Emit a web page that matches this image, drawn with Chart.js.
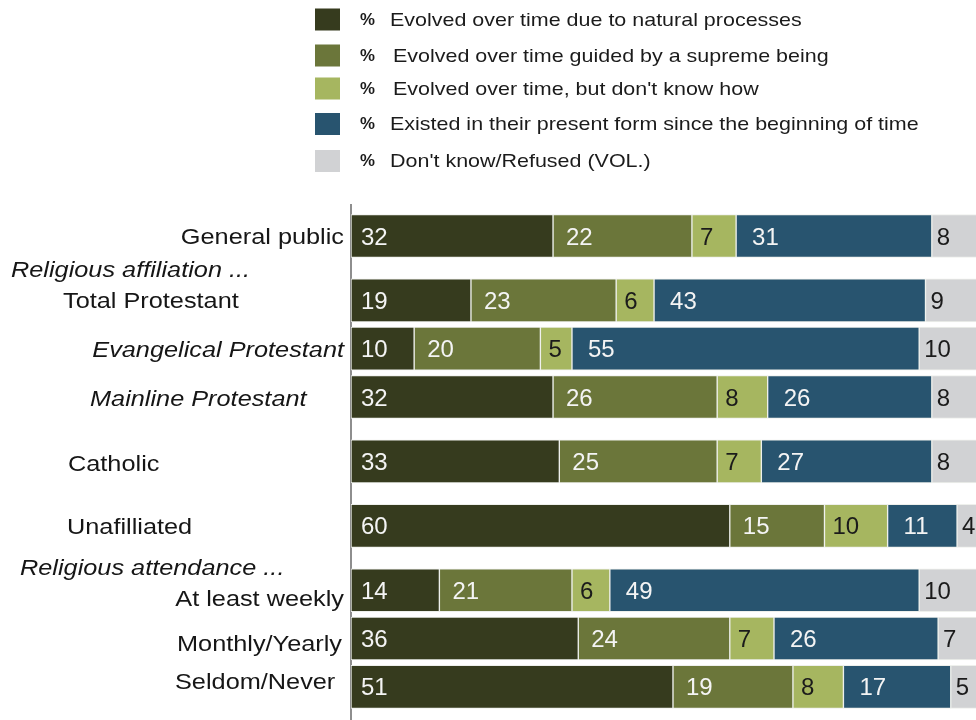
<!DOCTYPE html>
<html>
<head>
<meta charset="utf-8">
<script src="https://cdn.jsdelivr.net/npm/chart.js@4.4.1/dist/chart.umd.min.js"></script>
<style>
  html, body { margin: 0; padding: 0; background: #fff; overflow: hidden; }
  #wrap { width: 976px; height: 720px; }
</style>
</head>
<body>
<div id="wrap"><canvas id="evolution" width="976" height="720"></canvas></div>
<script>
// Views on human evolution, by religious group
const categories = [
  'General public', 'Total Protestant', 'Evangelical Protestant', 'Mainline Protestant',
  'Catholic', 'Unafilliated', 'At least weekly', 'Monthly/Yearly', 'Seldom/Never'
];
// row index on the (linear) category axis; gaps leave room for the group headings
const rowIndex = [0, 4, 7, 10, 14, 18, 22, 25, 28];

const seriesLabels = [
  'Evolved over time due to natural processes',
  'Evolved over time guided by a supreme being',
  "Evolved over time, but don't know how",
  'Existed in their present form since the beginning of time',
  "Don't know/Refused (VOL.)"
];
const naturalProcesses = [32, 19, 10, 32, 33, 60, 14, 36, 51];
const guidedBySupreme = [22, 23, 20, 26, 25, 15, 21, 24, 19];
const dontKnowHow = [7, 6, 5, 8, 7, 10, 6, 7, 8];
const presentForm = [31, 43, 55, 26, 27, 11, 49, 26, 17];
const dontKnowRefused = [8, 9, 10, 8, 8, 4, 10, 7, 5];

const seriesValues = [naturalProcesses, guidedBySupreme, dontKnowHow, presentForm, dontKnowRefused];
const colors = ['#363b1e', '#6b763a', '#a6b660', '#28546f', '#d1d2d4'];
const valueColors = ['#f4f4f4', '#f4f4f4', '#1b1b1b', '#f4f4f4', '#1b1b1b'];
const valueOffsets = [10, 13, 8, 16, 5];

const FONT = '"Liberation Sans", Arial, sans-serif';

// where each row label sits relative to its bar
const labelLayout = [
  { x: 344, align: 'right', dy: 2 },
  { x: 63, align: 'left', dy: 2 },
  { x: 344, align: 'right', dy: 2, italic: true },
  { x: 90, align: 'left', dy: 3, italic: true },
  { x: 68, align: 'left', dy: 4 },
  { x: 67, align: 'left', dy: 2 },
  { x: 344, align: 'right', dy: 10 },
  { x: 342, align: 'right', dy: 6 },
  { x: 175, align: 'left', dy: -4 }
];
const headings = [
  { text: 'Religious affiliation ...', x: 11, at: 2.17 },
  { text: 'Religious attendance ...', x: 20, at: 20.7 }
];

function stretchedText(ctx, text, x, y, align, font, color, sx) {
  ctx.save();
  ctx.translate(x, y);
  ctx.scale(sx, 1);
  ctx.font = font;
  ctx.fillStyle = color;
  ctx.textAlign = align;
  ctx.textBaseline = 'middle';
  ctx.fillText(text, 0, 0);
  ctx.restore();
}

const rowLabelsPlugin = {
  id: 'rowLabels',
  afterDraw(chart) {
    const { ctx } = chart;
    const yScale = chart.scales.y;
    categories.forEach((name, i) => {
      const l = labelLayout[i];
      const y = yScale.getPixelForValue(rowIndex[i]) + l.dy;
      const font = `${l.italic ? 'italic ' : ''}22px ${FONT}`;
      stretchedText(ctx, name, l.x, y, l.align, font, '#161616', 1.15);
    });
    headings.forEach(h => {
      const y = yScale.getPixelForValue(h.at);
      stretchedText(ctx, h.text, h.x, y, 'left', `italic 22px ${FONT}`, '#161616', 1.15);
    });
  }
};

const valueLabelsPlugin = {
  id: 'valueLabels',
  afterDatasetsDraw(chart) {
    const { ctx } = chart;
    ctx.save();
    ctx.font = `24px ${FONT}`;
    ctx.textAlign = 'left';
    ctx.textBaseline = 'middle';
    chart.data.datasets.forEach((ds, d) => {
      chart.getDatasetMeta(d).data.forEach((bar, i) => {
        const left = Math.min(bar.base, bar.x);
        ctx.fillStyle = valueColors[d];
        ctx.fillText(String(seriesValues[d][i]), left + valueOffsets[d], bar.y + 2);
      });
    });
    ctx.restore();
  }
};

// vertical legend stacked above the bars
const stackedLegendPlugin = {
  id: 'stackedLegend',
  afterDraw(chart) {
    const { ctx } = chart;
    const rows = [19.5, 55.5, 88.5, 124, 161];
    const textX = [390, 393, 393, 390, 390];
    chart.data.datasets.forEach((ds, i) => {
      const cy = rows[i];
      ctx.fillStyle = ds.backgroundColor;
      ctx.fillRect(315, cy - 11, 25, 22);
      stretchedText(ctx, '%', 360, cy + 1, 'left', `bold 16px ${FONT}`, '#1b1b1b', 1.05);
      stretchedText(ctx, ds.label, textX[i], cy + 1, 'left', `19px ${FONT}`, '#1b1b1b', 1.13);
    });
  }
};

new Chart(document.getElementById('evolution'), {
  type: 'bar',
  data: {
    datasets: seriesValues.map((vals, d) => ({
      label: seriesLabels[d],
      data: vals.map((v, i) => ({ x: v, y: rowIndex[i] })),
      backgroundColor: colors[d],
      borderColor: '#eef0ec',
      borderWidth: { top: 1, bottom: 1, left: 1, right: 1 },
      borderSkipped: false,
      barThickness: 43
    }))
  },
  options: {
    indexAxis: 'y',
    responsive: false,
    devicePixelRatio: 1,
    animation: false,
    layout: { padding: { left: 351, top: 205, right: 0, bottom: 0 } },
    plugins: {
      legend: { display: false },
      tooltip: { enabled: false }
    },
    scales: {
      x: {
        type: 'linear',
        stacked: true,
        min: 0,
        max: 99,
        display: false
      },
      y: {
        type: 'linear',
        stacked: true,
        reverse: true,
        offset: false,
        min: -1.925,
        max: 30.06,
        ticks: { display: false },
        grid: { display: false, drawTicks: false },
        border: { display: true, color: '#8e8e8e', width: 2 },
        afterFit: (scale) => { scale.width = 0; }
      }
    }
  },
  plugins: [valueLabelsPlugin, rowLabelsPlugin, stackedLegendPlugin]
});
</script>
</body>
</html>
